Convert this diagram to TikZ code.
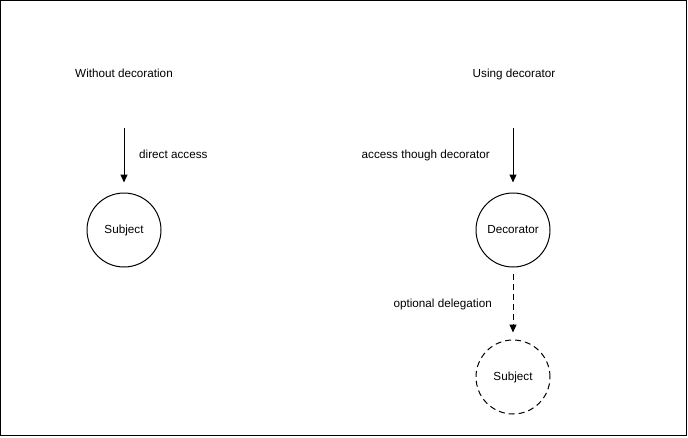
\documentclass[tikz,border=0pt]{standalone}
\usepackage{fontspec}
\setmainfont{Liberation Sans}
\usetikzlibrary{arrows.meta,positioning}
\tikzset{
  circ/.style={draw, circle, line width=1pt, minimum size=74pt, inner sep=0pt,
               font=\fontsize{11.7}{14}\selectfont},
  optc/.style={circ, dash pattern=on 6pt off 4pt},
  ar/.style={-{Triangle[length=8pt,width=7pt]}, line width=1pt},
  optar/.style={ar, dash pattern=on 6pt off 4pt},
  lbl/.style={font=\fontsize{11.7}{14}\selectfont, inner sep=0pt},
}

\begin{document}
\begin{tikzpicture}[x=1pt, y=-1pt]
\useasboundingbox (0,0) rectangle (688,437);
\draw[line width=1pt] (0.5,0.5) rectangle (686.5,435.5);

% ---- without decoration ----
\node[lbl, anchor=base] (t1) at (124,77) {Without decoration};
\node[circ] (sub1) at (124,230) {Subject};
\coordinate (a1) at (124,128);
\node[lbl, anchor=base west] (l1) at (139,158.5) {direct access};

% ---- using decorator ----
\node[lbl, anchor=base] (t2) at (514,77) {Using decorator};
\node[circ] (dec) at (513,230) {Decorator};
\node[optc, below=72pt of dec] (sub2) {Subject};
\coordinate (a2) at (513,128);
\node[lbl, anchor=base east] (l2) at (490,158.5) {access though decorator};
\node[lbl, anchor=base east] (l3) at (492,307.5) {optional delegation};

% ---- arrows ----
\draw[ar, shorten >=10pt] (a1) -- (sub1);
\draw[ar, shorten >=10pt] (a2) -- (dec);
\draw[optar, shorten <=6pt, shorten >=7pt] (dec) -- (sub2);

\end{tikzpicture}
\end{document}
